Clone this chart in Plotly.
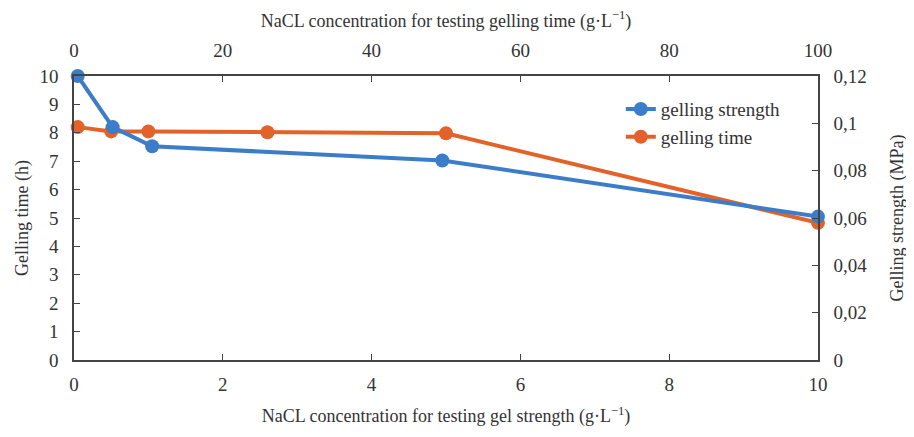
import plotly.graph_objects as go

# gel strength series (bottom x axis, right y axis)
strength_nacl = [0.05, 0.52, 1.05, 4.95, 10]
strength_mpa = [0.12, 0.0984, 0.0903, 0.0843, 0.0606]

# gelling time series (top x axis, left y axis)
time_nacl = [0.5, 5, 10, 26, 50, 100]
time_h = [8.2, 8.05, 8.05, 8.02, 7.98, 4.83]

left_ticks = list(range(0, 11))
right_vals = [0, 0.02, 0.04, 0.06, 0.08, 0.1, 0.12]
right_text = ["0", "0,02", "0,04", "0,06", "0,08", "0,1", "0,12"]

blue = "#3b7dc8"
orange = "#e3622a"
axis_col = "#444444"
font = dict(family="Liberation Serif", size=19, color="#333333")
title_font = dict(family="Liberation Serif", size=18, color="#333333")

fig = go.Figure()
# orange: main axes (x = top, y = left)
fig.add_trace(go.Scatter(x=time_nacl, y=time_h, xaxis="x", yaxis="y",
                         mode="lines+markers", name="gelling time",
                         line=dict(color=orange, width=4), marker=dict(size=14, color=orange),
                         cliponaxis=False))
# blue: overlay axes (x2 = bottom, y2 = right)
fig.add_trace(go.Scatter(x=strength_nacl, y=strength_mpa, xaxis="x2", yaxis="y2",
                         mode="lines+markers", name="gelling strength",
                         line=dict(color=blue, width=4), marker=dict(size=14, color=blue),
                         cliponaxis=False))

axis_common = dict(showgrid=False, zeroline=False, showline=True, linecolor=axis_col,
                   linewidth=1.5, ticks="inside", tickcolor=axis_col, ticklen=6,
                   tickfont=font, automargin=False)

# the page body adds an 8px offset, so margins are shifted by that
fig.update_layout(
    width=914, height=437,
    margin=dict(l=66, r=104, t=68, b=85),
    paper_bgcolor="white", plot_bgcolor="white",
    font=font,
    showlegend=True,
    legend=dict(x=0.735, y=0.95, xanchor="left", yanchor="top", bgcolor="rgba(0,0,0,0)",
                font=font, tracegroupgap=0, traceorder="reversed"),
    xaxis=dict(range=[0, 100], dtick=20, side="top", ticklabelstandoff=10,
               title=dict(text="NaCL concentration for testing gelling time (g·L<sup>−1</sup>)",
                          font=title_font, standoff=8), **axis_common),
    xaxis2=dict(range=[0, 10], dtick=2, side="bottom", overlaying="x", ticklabelstandoff=6,
                title=dict(text="NaCL concentration for testing gel strength (g·L<sup>−1</sup>)",
                           font=title_font, standoff=16), **axis_common),
    yaxis=dict(range=[0, 10], tickvals=left_ticks, side="left", ticklabelstandoff=10,
               title=dict(text="Gelling time (h)", font=title_font, standoff=6), **axis_common),
    yaxis2=dict(range=[0, 0.12], tickvals=right_vals, ticktext=right_text, side="right",
                overlaying="y", ticklabelstandoff=10,
                title=dict(text="Gelling strength (MPa)", font=title_font, standoff=24),
                **axis_common),
)

fig.write_html("out.html")
